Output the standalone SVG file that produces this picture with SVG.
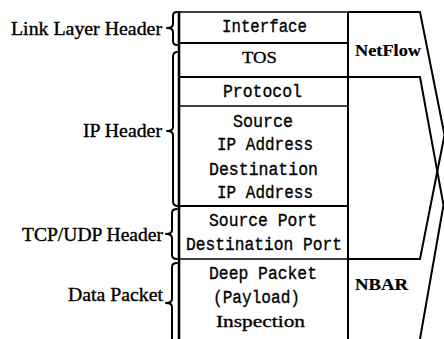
<svg xmlns="http://www.w3.org/2000/svg" width="444" height="339" viewBox="0 0 444 339">
<style>
text{stroke:#000;stroke-width:0.35}
.lbl{font-family:"Liberation Serif","Times New Roman",serif;font-size:18px;fill:#000}
.mono{font-family:"Liberation Mono","Courier New",monospace;font-size:19px;fill:#000}
.ser{font-family:"Liberation Serif","Times New Roman",serif;font-size:17.5px;fill:#000}
.bold{font-family:"Liberation Serif","Times New Roman",serif;font-size:17px;font-weight:bold;fill:#000;stroke-width:0.2}
.ln{stroke:#000;stroke-width:2;fill:none}
.thin{stroke:#000;stroke-width:1.4;fill:none}
.br{stroke:#000;stroke-width:2;fill:none;stroke-linejoin:round;stroke-linecap:round}
</style>
<rect width="444" height="339" fill="#fff"/>
<g id="table">
<line class="thin" x1="179" y1="12" x2="348" y2="12"/>
<line class="ln" x1="179" y1="11" x2="179" y2="339" style="stroke-width:2.6"/>
<line class="ln" x1="348" y1="12" x2="348" y2="339"/>
<line class="ln" x1="179" y1="43" x2="348" y2="43"/>
<line class="ln" x1="179" y1="77" x2="348" y2="77"/>
<line class="thin" x1="179" y1="106" x2="348" y2="106"/>
<line class="ln" x1="179" y1="206" x2="348" y2="206"/>
<line class="thin" x1="179" y1="259" x2="348" y2="259"/>
</g>
<g id="label-link"><text class="lbl" x="11" y="35" textLength="151" lengthAdjust="spacingAndGlyphs">Link Layer Header</text></g>
<g id="label-ip"><text class="lbl" x="83" y="137" textLength="79" lengthAdjust="spacingAndGlyphs">IP Header</text></g>
<g id="label-tcp"><text class="lbl" x="22" y="241" textLength="141" lengthAdjust="spacingAndGlyphs">TCP/UDP Header</text></g>
<g id="label-data"><text class="lbl" x="68" y="301" textLength="95" lengthAdjust="spacingAndGlyphs">Data Packet</text></g>
<g id="cell-interface"><text class="mono" x="222" y="32" textLength="85" lengthAdjust="spacingAndGlyphs">Interface</text></g>
<g id="cell-tos"><text class="ser" x="242" y="63" textLength="35" lengthAdjust="spacingAndGlyphs">TOS</text></g>
<g id="cell-protocol"><text class="mono" x="223" y="97" textLength="79" lengthAdjust="spacingAndGlyphs">Protocol</text></g>
<g id="cell-ip">
<text class="mono" x="233" y="127" textLength="60" lengthAdjust="spacingAndGlyphs">Source</text>
<text class="mono" x="217" y="150" textLength="96" lengthAdjust="spacingAndGlyphs">IP Address</text>
<text class="mono" x="209" y="175" textLength="109" lengthAdjust="spacingAndGlyphs">Destination</text>
<text class="mono" x="217" y="198" textLength="96" lengthAdjust="spacingAndGlyphs">IP Address</text>
</g>
<g id="cell-ports">
<text class="mono" x="209" y="226" textLength="108" lengthAdjust="spacingAndGlyphs">Source Port</text>
<text class="mono" x="186" y="250" textLength="156" lengthAdjust="spacingAndGlyphs">Destination Port</text>
</g>
<g id="cell-dpi">
<text class="mono" x="209" y="279" textLength="108" lengthAdjust="spacingAndGlyphs">Deep Packet</text>
<text class="mono" x="213" y="303" textLength="87" lengthAdjust="spacingAndGlyphs">(Payload)</text>
<text class="ser" x="216" y="327" textLength="89" lengthAdjust="spacingAndGlyphs">Inspection</text>
</g>
<g id="netflow">
<path class="ln" d="M348 12 H420 L444.5 135 L420 259 H348"/>
<text class="bold" x="355" y="56" textLength="66" lengthAdjust="spacingAndGlyphs">NetFlow</text>
</g>
<g id="nbar">
<path class="ln" d="M348 77 H420 L443.5 205 L420 339"/>
<text class="bold" x="355" y="290" textLength="53" lengthAdjust="spacingAndGlyphs">NBAR</text>
</g>
<g id="connectors">
<path class="br" d="M177 12 Q173 12 173 16 V24 Q173 28 167 28 Q173 28 173 32 V41 Q173 45 177 45"/>
<path class="br" d="M177 52 Q173 52 173 57 V127 Q173 131 167 131 Q173 131 173 135 V201 Q173 206 178 206"/>
<path class="br" d="M177 209 Q172 209 172 213 V230 Q172 234 166 234 Q172 234 172 238 V255 Q172 259 177 259"/>
<path class="br" d="M177 263 Q172 263 172 267 V299 Q172 303 166 303 Q172 303 172 307 V339"/>
</g>
</svg>
